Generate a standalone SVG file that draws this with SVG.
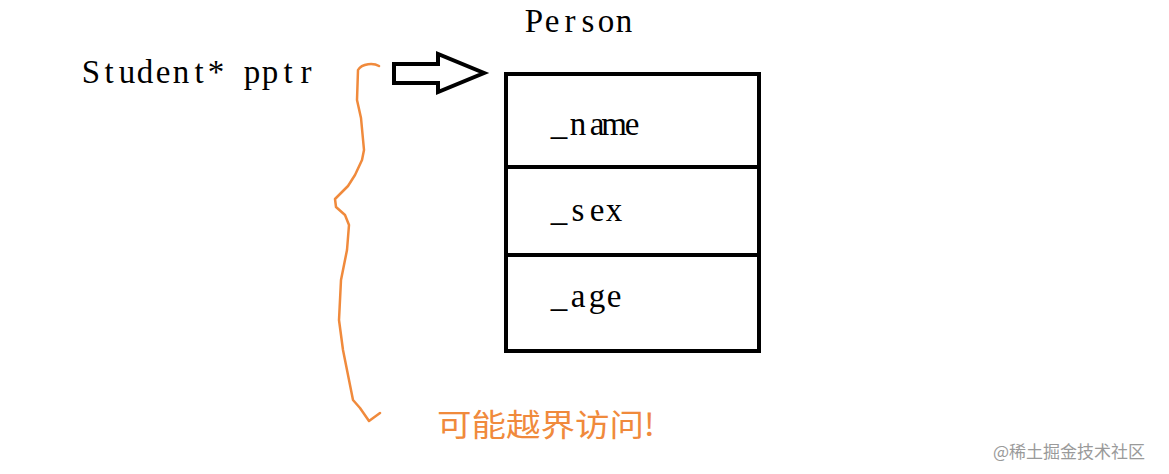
<svg xmlns="http://www.w3.org/2000/svg" width="1169" height="474" viewBox="0 0 1169 474">
<style>
.t{font-family:"Liberation Serif","DejaVu Serif",serif;font-size:33px;fill:#000;text-anchor:middle}
.box{fill:none;stroke:#000;stroke-width:4}
.cn{font-family:"Noto Sans CJK SC",sans-serif;fill:#F08A3C;font-size:31px}
</style>
<rect width="1169" height="474" fill="#fff"/>
<g id="person-label"><text class="t" x="534 552 570 588 606 624" y="32">Person</text></g>
<g id="pptr"><text class="t" x="91 109 127 145 163 181 199 216 234 252 270 288 306" y="83">Student* pptr</text></g>
<g id="person">
<rect class="box" x="506" y="74" width="253" height="277"/>
<line class="box" x1="506" y1="167" x2="759" y2="167"/>
<line class="box" x1="506" y1="255" x2="759" y2="255"/>
<text class="t" x="559 578 597 614 632" y="135">_name</text>
<text class="t" x="559 578 597 614" y="221">_sex</text>
<text class="t" x="559 578 597 614" y="307">_age</text>
</g>
<g id="connectors">
<path d="M394,64 L438,64 L438,54 L484,73 L438,92 L438,83 L394,83 Z" fill="#fff" stroke="#000" stroke-width="4" stroke-linejoin="miter"/>
<path d="M379,66 C374,63 362,63 358,70 L357,100 L361,118 L364,150 L362,160 L355,175 L348,186 L340,194 L335,199 L336,207 L345,215 L349,225 L347,250 L341,280 L339,320 L343,350 L349,380 L353,400 L360,408 L369,421 L380,413" fill="none" stroke="#F08A3C" stroke-width="2.5" stroke-linejoin="round" stroke-linecap="round"/>
</g>
<g id="warning"><text class="cn" x="437" y="436" textLength="218" lengthAdjust="spacingAndGlyphs">可能越界访问!</text></g>
<g id="watermark"><text x="993" y="458" font-family="Noto Sans CJK SC,sans-serif" font-size="17" fill="#9a9a9a">@稀土掘金技术社区</text></g>
</svg>
